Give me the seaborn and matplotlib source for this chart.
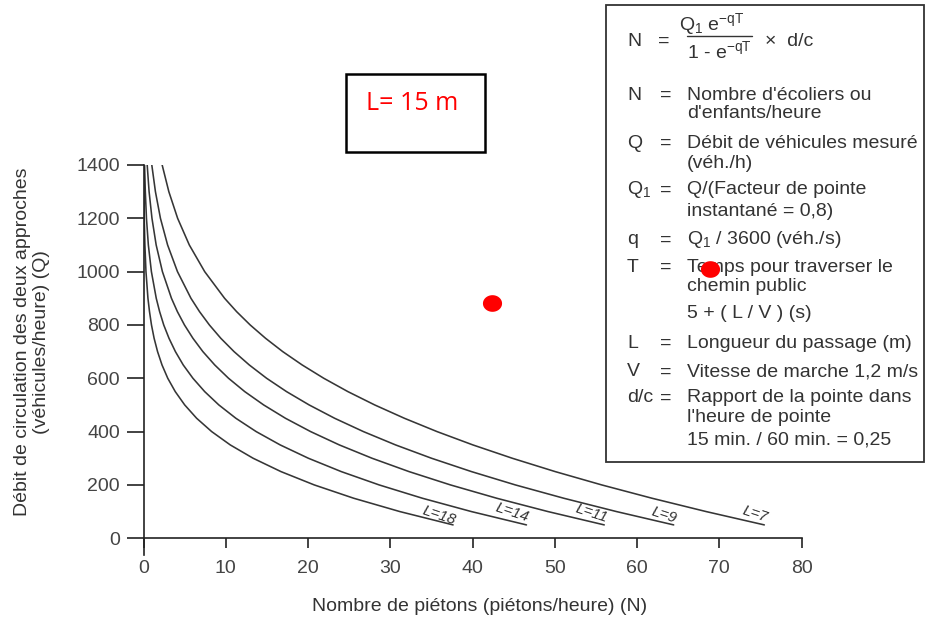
import numpy as np
import pandas as pd
import matplotlib
matplotlib.use("Agg")
import matplotlib.pyplot as plt
import seaborn as sns
from matplotlib.patches import Rectangle
from matplotlib.lines import Line2D
from matplotlib.path import Path

# ---------------- data ----------------
Q_vals = [1400, 1300, 1200, 1100, 1000, 900, 850, 800, 750, 700, 650, 600, 550, 500, 450, 400, 350, 300, 250, 200, 150, 100, 50]
N_L7 = [2.27, 3.08, 4.15, 5.57, 7.44, 9.86, 11.32, 12.97, 14.84, 16.93, 19.29, 21.92, 24.85, 28.11, 31.72, 35.69, 40.05, 44.84, 50.05, 55.71, 61.83, 68.41, 75.48]
N_L9 = [1.01, 1.45, 2.06, 2.93, 4.13, 5.77, 6.81, 8.01, 9.40, 11.01, 12.86, 14.97, 17.39, 20.14, 23.24, 26.74, 30.65, 35.02, 39.87, 45.21, 51.10, 57.51, 64.46]
N_L11 = [0.45, 0.68, 1.03, 1.54, 2.30, 3.40, 4.12, 4.98, 6.01, 7.22, 8.66, 10.34, 12.31, 14.61, 17.26, 20.32, 23.81, 27.79, 32.28, 37.32, 42.95, 49.18, 56.02]
N_L14 = [0.13, 0.22, 0.36, 0.59, 0.96, 1.55, 1.96, 2.46, 3.10, 3.88, 4.83, 6.01, 7.44, 9.16, 11.23, 13.70, 16.62, 20.05, 24.04, 28.65, 33.91, 39.87, 46.56]
N_L18 = [0.03, 0.05, 0.09, 0.17, 0.30, 0.54, 0.73, 0.97, 1.29, 1.71, 2.25, 2.95, 3.86, 5.01, 6.46, 8.29, 10.55, 13.33, 16.71, 20.76, 25.56, 31.17, 37.64]
curve_names = ["L=7", "L=9", "L=11", "L=14", "L=18"]
label_N = [74.3, 63.3, 54.5, 44.8, 36.0]
label_Q = [92, 88, 92, 96, 85]
marked_N = [42.4, 68.9]
marked_Q = [882, 1010]
x_ticks = [0, 10, 20, 30, 40, 50, 60, 70, 80]
y_ticks = [0, 200, 400, 600, 800, 1000, 1200, 1400]

# ---------------- style ----------------
sns.set_theme(style="ticks")
plt.rcParams['font.family'] = ['Liberation Sans', 'DejaVu Sans']
plt.rcParams['mathtext.fontset'] = 'custom'
plt.rcParams['mathtext.rm'] = 'Liberation Sans'
plt.rcParams['mathtext.it'] = 'Liberation Sans:italic'
plt.rcParams['mathtext.default'] = 'regular'

W, H = 927, 624
fig = plt.figure(figsize=(W / 100, H / 100), dpi=100)
fig.patch.set_facecolor("white")
ax = fig.add_axes([143.5 / W, 1 - 555.3 / H, 658 / W, 390.3 / H])
ax.set_facecolor("white")

rows = []
for name, vals in zip(curve_names, [N_L7, N_L9, N_L11, N_L14, N_L18]):
    for q, n in zip(Q_vals, vals):
        rows.append({"N": n, "Q": q, "L": name})
df = pd.DataFrame(rows)

line_col = "#363636"
sns.lineplot(data=df, x="N", y="Q", hue="L", palette={k: line_col for k in curve_names},
             estimator=None, sort=False, legend=False, ax=ax, linewidth=1.15)

for name, xn, yq in zip(curve_names, label_N, label_Q):
    ax.text(xn, yq, name, rotation=-18, style="italic", fontsize=11, ha="center",
            va="center", color="#333333", rotation_mode="anchor")

# axes styling
for s in ["top", "right"]:
    ax.spines[s].set_visible(False)
ax.spines["bottom"].set_position(("data", 0))
for s in ["left", "bottom"]:
    ax.spines[s].set_color("#222222")
    ax.spines[s].set_linewidth(1.2)
ax.set_xticks(x_ticks)
ax.set_yticks(y_ticks)
ax.tick_params(axis="x", length=7.5, width=1.2, pad=8, labelsize=14, labelcolor="#444444", color="#222222")
ax.tick_params(axis="y", length=12, width=1.2, pad=5, labelsize=14, labelcolor="#444444", color="#222222")

ax.set_xlabel("Nombre de piétons (piétons/heure) (N)", fontsize=14, color="#333333")
ax.xaxis.set_label_coords(0.51, -0.11)
ax.set_ylabel("Débit de circulation des deux approches\n(véhicules/heure) (Q)", fontsize=14,
              color="#333333", multialignment="center", linespacing=1.15)
ax.yaxis.set_label_coords(-0.142, 0.547)


def fx(x):
    return x / W


def fy(y):
    return 1 - y / H


def ftext(x, y, s, **kw):
    kw.setdefault("fontsize", 14)
    kw.setdefault("color", "#333333")
    kw.setdefault("va", "center")
    kw.setdefault("ha", "left")
    ax.text(fx(x), fy(y), s, transform=fig.transFigure, clip_on=False, zorder=6, **kw)


# right-hand definition box
ax.add_patch(Rectangle((fx(606), fy(462)), 318 / W, 457 / H, transform=fig.transFigure,
                       facecolor="white", edgecolor="#333333", lw=1.3, zorder=5, clip_on=False))
ftext(627, 41, "N")
ftext(658, 41, "=")
ftext(712, 24, "Q$_1$ e$^{-qT}$", ha="center")
ax.add_line(Line2D([fx(687), fx(752)], [fy(36), fy(36)], transform=fig.transFigure,
                   color="#333333", lw=1.0, zorder=6, clip_on=False))
ftext(719, 51, "1 - e$^{-qT}$", ha="center")
ftext(765, 41, "×  d/c")

entries = [
    ("N", ["Nombre d'écoliers ou", "d'enfants/heure"], [95, 114]),
    ("Q", ["Débit de véhicules mesuré", "(véh./h)"], [143, 163]),
    ("Q$_1$", ["Q/(Facteur de pointe", "instantané = 0,8)"], [190, 211]),
    ("q", ["Q$_1$ / 3600 (véh./s)"], [240]),
    ("T", ["Temps pour traverser le", "chemin public", "5 + ( L / V ) (s)"], [267, 287, 314]),
    ("L", ["Longueur du passage (m)"], [343]),
    ("V", ["Vitesse de marche 1,2 m/s"], [372]),
    ("d/c", ["Rapport de la pointe dans", "l'heure de pointe", "15 min. / 60 min. = 0,25"], [398, 418, 440]),
]
for sym, lines, ys in entries:
    ftext(627, ys[0], sym)
    ftext(660, ys[0], "=")
    for t, yy in zip(lines, ys):
        ftext(687, yy, t)

# "L= 15 m" box
ax.add_patch(Rectangle((fx(346), fy(152)), 139 / W, 78 / H, transform=fig.transFigure,
                       facecolor="white", edgecolor="black", lw=1.8, zorder=5, clip_on=False))
ftext(366, 103, "L= 15 m", fontsize=18, color="red", family=["Open Sans", "DejaVu Sans"])

# red marked points
theta = np.linspace(0, 2 * np.pi, 64)
ell = Path(np.column_stack([np.cos(theta), 0.87 * np.sin(theta)]), closed=True)
ax.scatter(marked_N, marked_Q, marker=ell, s=190, color="red", linewidths=0, zorder=10, clip_on=False)

ax.set_xlim(0, 80)
ax.set_ylim(-64, 1400)

fig.savefig("out.png", dpi=100, facecolor="white")
